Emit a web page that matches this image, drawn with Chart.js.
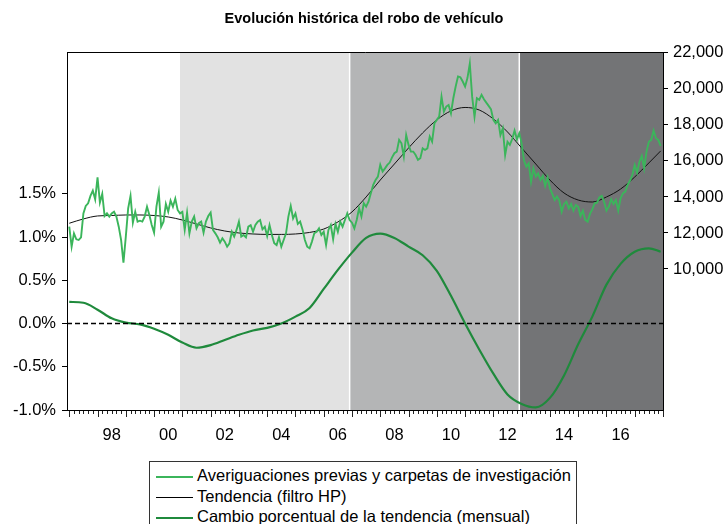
<!DOCTYPE html>
<html lang="es">
<head>
<meta charset="utf-8">
<title>Evolución histórica del robo de vehículo</title>
<script src="https://cdn.jsdelivr.net/npm/chart.js@4.4.1/dist/chart.umd.min.js"></script>
<style>
  body { margin: 0; background: #fff; }
  #caja { position: relative; width: 728px; height: 524px; overflow: hidden; }
  #lienzo { position: absolute; left: 0; top: 0; }
  #leyenda {
    position: absolute; left: 149px; top: 461px; width: 428px; height: 80px;
    border: 1px solid #333; box-sizing: border-box; padding-top: 3px;
    font-family: "Liberation Sans", Arial, sans-serif; font-size: 16.5px; color: #000;
  }
  .fila { height: 20.5px; line-height: 20.5px; white-space: nowrap; }
  .muestra { display: inline-block; width: 37px; margin: 0 4px 0 6px; vertical-align: middle; border-top: 2px solid #000; }
</style>
</head>
<body>
<div id="caja">
  <canvas id="lienzo" width="728" height="450"></canvas>
  <div id="leyenda">
    <div class="fila"><span class="muestra" style="border-top-color:#3bb55b"></span>Averiguaciones previas y carpetas de investigación</div>
    <div class="fila"><span class="muestra" style="border-top:1px solid #000"></span>Tendencia (filtro HP)</div>
    <div class="fila"><span class="muestra" style="border-top-color:#1f8a3c"></span>Cambio porcentual de la tendencia (mensual)</div>
  </div>
</div>
<script>
// serie mensual, enero 1997 a diciembre 2017 (eje derecho)
const inicioSerie = 1997;
const averiguaciones = [
  12350, 11240, 11980, 11650, 11610, 11760, 13090, 13500, 13650, 14060, 14350, 13870,
  15090, 13690, 14170, 12940, 13090, 12910, 13090, 13180, 12910, 12350, 11610, 10350,
  11800, 13370, 14060, 12570, 13180, 12630, 12680, 12630, 12910, 13460, 13000, 12440,
  12020, 13460, 14240, 12350, 12630, 13610, 13180, 13800, 13460, 13910, 13280, 13090,
  13170, 12170, 13130, 11980, 12630, 12910, 12260, 12540, 12630, 12020, 12630, 12940,
  13130, 12170, 11980, 11760, 11460, 11700, 11520, 11240, 11430, 12070, 11800, 12170,
  12630, 11800, 11890, 11760, 12350, 12430, 12070, 12440, 12630, 12720, 12200, 12350,
  11830, 12440, 11890, 11430, 11330, 11760, 11240, 11610, 11980, 12910, 13500, 12810,
  13090, 12500, 12630, 12200, 11610, 11240, 11150, 11520, 11980, 12070, 12260, 11890,
  12070, 11330, 12170, 12440, 11650, 12500, 12070, 12630, 12350, 12720, 13090, 12720,
  12570, 12260, 12720, 13370, 12910, 13650, 13460, 13740, 14200, 14670, 14940, 15130,
  15780, 15410, 15590, 15780, 15910, 16200, 16430, 16520, 17170, 16980, 16240, 17440,
  16890, 16520, 16520, 16330, 16060, 16150, 16700, 16610, 16700, 17350, 17070, 18090,
  18280, 18460, 19570, 18740, 19020, 19110, 18650, 19480, 20130, 20690, 20650, 20410,
  20130, 20600, 21400, 19570, 18460, 19480, 19390, 19670, 19430, 19240, 19060, 18870,
  18280, 18090, 18280, 17440, 17810, 16330, 17060, 16890, 17220, 17690, 17200, 17540,
  16980, 16020, 15680, 15870, 14850, 15590, 15130, 15310, 14940, 15170, 14610, 15090,
  14480, 14170, 13830, 14020, 13800, 13180, 13610, 13740, 13370, 13610, 13240, 13560,
  13460, 12940, 13240, 12720, 12630, 13060, 13310, 13650, 13680, 13980, 14060, 13740,
  13240, 13460, 13870, 13610, 13830, 13240, 13930, 14200, 14300, 14670, 14910, 15220,
  15780, 15350, 15960, 16280, 15590, 16520, 17070, 17170, 17690, 17260, 17170, 16830
];

// fechas semestrales para la tendencia y su cambio
const fechasSemestre = [
  1997, 1997.5, 1998, 1998.5, 1999, 1999.5, 2000, 2000.5, 2001, 2001.5, 2002, 2002.5,
  2003, 2003.5, 2004, 2004.5, 2005, 2005.5, 2006, 2006.5, 2007, 2007.5, 2008, 2008.5,
  2009, 2009.5, 2010, 2010.5, 2011, 2011.5, 2012, 2012.5, 2013, 2013.5, 2014, 2014.5,
  2015, 2015.5, 2016, 2016.5, 2017, 2017.5, 2017.92
];
const tendencia = [
  12540, 12780, 12945, 12970, 13000, 13000, 12970, 12890, 12720, 12500, 12280, 12110,
  12000, 11945, 11920, 11920, 11945, 12030, 12220, 12610, 13170, 14000, 14940, 15830,
  16720, 17560, 18280, 18780, 18970, 18830, 18330, 17610, 16720, 15830, 14940, 14220,
  13830, 13720, 14000, 14440, 15110, 15890, 16560
];
const cambio = [
  0.25, 0.24, 0.16, 0.06, 0.01, -0.01, -0.06, -0.13, -0.22, -0.28, -0.25, -0.19,
  -0.13, -0.08, -0.05, 0.0, 0.08, 0.18, 0.40, 0.62, 0.82, 0.99, 1.04, 0.99,
  0.89, 0.79, 0.61, 0.32, 0.0, -0.30, -0.58, -0.82, -0.93, -0.97, -0.86, -0.60,
  -0.24, 0.08, 0.45, 0.69, 0.83, 0.87, 0.83
];

// inicio de cada sexenio (dic 2000, dic 2006, dic 2012)
const sexenios = [2000.917, 2006.917, 2012.917];
const aniosEtiqueta = [1998, 2000, 2002, 2004, 2006, 2008, 2010, 2012, 2014, 2016];
const ticksIzq = [-1.0, -0.5, 0.0, 0.5, 1.0, 1.5];
const ticksDer = [10000, 12000, 14000, 16000, 18000, 20000, 22000];

const fondos = ['#ffffff', '#e2e2e2', '#b4b5b6', '#737476'];
const fuente = "'Liberation Sans', Arial, sans-serif";

const sombreado = {
  id: 'sombreado',
  beforeDraw(chart) {
    const { ctx, chartArea: a, scales: { x } } = chart;
    const bordes = [x.min].concat(sexenios, [x.max]);
    ctx.save();
    for (let i = 0; i < fondos.length; i++) {
      const x0 = x.getPixelForValue(bordes[i]);
      const x1 = x.getPixelForValue(bordes[i + 1]);
      ctx.fillStyle = fondos[i];
      ctx.fillRect(x0, a.top, x1 - x0, a.bottom - a.top);
    }
    ctx.strokeStyle = '#ffffff';
    ctx.lineWidth = 1.5;
    sexenios.slice(1).forEach(s => {
      const px = x.getPixelForValue(s);
      ctx.beginPath(); ctx.moveTo(px, a.top); ctx.lineTo(px, a.bottom); ctx.stroke();
    });
    ctx.restore();
  },
  afterDraw(chart) {
    const { ctx, chartArea: a, scales: { x } } = chart;
    ctx.save();
    ctx.strokeStyle = '#222';
    ctx.lineWidth = 1;
    // marcas bimestrales, mas largas al inicio de cada año
    for (let k = 0; k <= 126; k++) {
      const px = Math.round(x.getPixelForValue(inicioSerie + k / 6)) + 0.5;
      const largo = k % 6 === 0 ? 7 : 4;
      ctx.beginPath(); ctx.moveTo(px, a.bottom); ctx.lineTo(px, a.bottom + largo); ctx.stroke();
    }
    ctx.strokeStyle = '#000';
    ctx.beginPath();
    ctx.rect(Math.round(a.left) + 0.5, Math.round(a.top) + 0.5, Math.round(a.right - a.left), Math.round(a.bottom - a.top));
    ctx.stroke();
    ctx.restore();
  }
};

const datosMensuales = averiguaciones.map((v, i) => ({ x: inicioSerie + i / 12, y: v }));
const datosTendencia = tendencia.map((v, i) => ({ x: fechasSemestre[i], y: v }));
const datosCambio = cambio.map((v, i) => ({ x: fechasSemestre[i], y: v }));

new Chart(document.getElementById('lienzo'), {
  type: 'line',
  data: {
    datasets: [
      {
        label: 'Línea cero',
        data: [{ x: 1996.92, y: 0 }, { x: 2018, y: 0 }],
        yAxisID: 'y',
        borderColor: '#000',
        borderWidth: 1.5,
        borderDash: [5, 3],
        pointRadius: 0
      },
      {
        label: 'Cambio porcentual de la tendencia (mensual)',
        data: datosCambio,
        yAxisID: 'y',
        borderColor: '#1f8a3c',
        borderWidth: 2.2,
        pointRadius: 0,
        cubicInterpolationMode: 'monotone'
      },
      {
        label: 'Averiguaciones previas y carpetas de investigación',
        data: datosMensuales,
        yAxisID: 'y2',
        borderColor: '#3bb55b',
        borderWidth: 1.9,
        pointRadius: 0,
        tension: 0
      },
      {
        label: 'Tendencia (filtro HP)',
        data: datosTendencia,
        yAxisID: 'y2',
        borderColor: '#111',
        borderWidth: 1,
        pointRadius: 0,
        cubicInterpolationMode: 'monotone'
      }
    ]
  },
  options: {
    responsive: false,
    animation: false,
    events: [],
    layout: { padding: 0 },
    plugins: {
      legend: { display: false },
      tooltip: { enabled: false },
      title: {
        display: true,
        text: 'Evolución histórica del robo de vehículo',
        color: '#000',
        font: { family: fuente, size: 14.5, weight: 'bold' },
        padding: { top: 10, bottom: 24.6 }
      }
    },
    scales: {
      x: {
        type: 'linear',
        min: 1996.92,
        max: 2018,
        afterBuildTicks: s => { s.ticks = aniosEtiqueta.map(a => ({ value: a + 0.5 })); },
        afterFit: s => { s.height = 40; },
        grid: { display: false, drawTicks: false },
        border: { display: true, color: '#000', width: 1 },
        ticks: {
          autoSkip: false, maxRotation: 0, padding: 16, color: '#000',
          font: { family: fuente, size: 16.5 },
          callback: v => String(Math.floor(v) % 100).padStart(2, '0')
        }
      },
      y: {
        position: 'left',
        min: -1.0,
        max: 3.14,
        afterBuildTicks: s => { s.ticks = ticksIzq.map(v => ({ value: v })); },
        afterFit: s => { s.width = 67; },
        grid: { drawOnChartArea: false, drawTicks: true, tickLength: 5, color: '#000' },
        border: { display: true, color: '#000', width: 1 },
        ticks: {
          padding: 6, color: '#000',
          font: { family: fuente, size: 16.5 },
          callback: v => v.toFixed(1) + '%'
        }
      },
      y2: {
        position: 'right',
        min: 2170,
        max: 22050,
        afterBuildTicks: s => { s.ticks = ticksDer.map(v => ({ value: v })); },
        afterFit: s => { s.width = 65; },
        grid: { drawOnChartArea: false, drawTicks: true, tickLength: 5, color: '#000' },
        border: { display: true, color: '#000', width: 1 },
        ticks: {
          padding: 5, color: '#000',
          font: { family: fuente, size: 16.5 },
          callback: v => v.toLocaleString('en-US')
        }
      }
    }
  },
  plugins: [sombreado]
});
</script>
</body>
</html>
